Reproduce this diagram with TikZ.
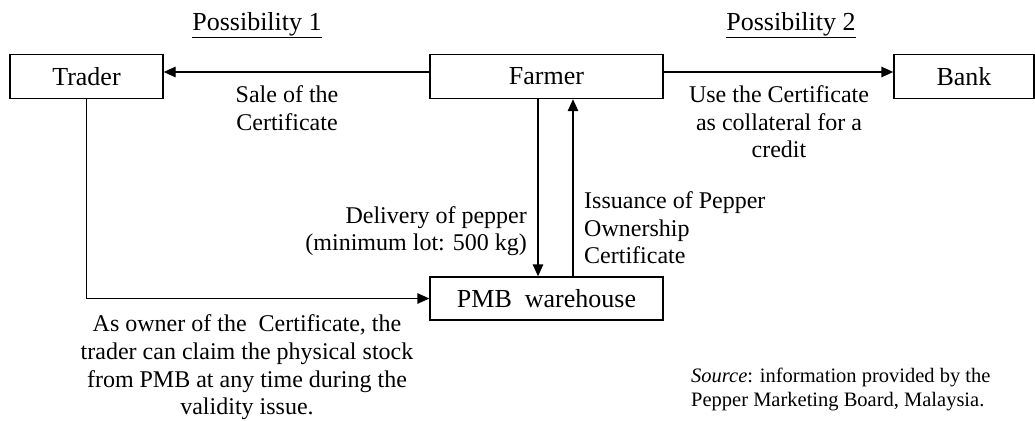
\documentclass[tikz,border=0pt]{standalone}
\usepackage{fontspec}
\setmainfont{Liberation Serif}
\usetikzlibrary{arrows.meta}
\begin{document}
\begin{tikzpicture}[x=1pt,y=-1pt,
  box/.style={draw,line width=1.4pt,minimum height=44pt,inner sep=0pt,font=\fontsize{26}{28}\selectfont},
  head/.style={inner sep=0pt,font=\fontsize{26}{28}\selectfont},
  lbl/.style={inner sep=0pt,font=\fontsize{24}{27.6}\selectfont},
  small/.style={inner sep=0pt,font=\fontsize{20.5}{24}\selectfont},
  arr/.style={line width=1.4pt,-{Triangle[length=12pt,width=10.5pt]}}]
\useasboundingbox (0,0) rectangle (1035,420);
\node[box,minimum width=153pt] (Trader) at (86.5,76.5) {Trader};
\node[box,minimum width=233pt] (Farmer) at (546.5,76.5) {Farmer};
\node[box,minimum width=140pt] (Bank) at (964,76.5) {Bank};
\node[box,minimum width=233pt,minimum height=43pt] (PMB) at (546.5,298.5) {PMB\ \ warehouse};
\node[head] (p1) at (257,25) {\underline{Possibility 1}};
\node[head] (p2) at (791,25) {\underline{Possibility 2}};
\draw[arr] ([yshift=4.5pt]Farmer.west) -- ([yshift=4.5pt]Trader.east);
\draw[arr] ([yshift=4.5pt]Farmer.east) -- ([yshift=4.5pt]Bank.west);
\draw[arr] (Trader.south) |- (PMB.west);
\draw[arr] ([xshift=-8.5pt]Farmer.south) -- ([xshift=-8.5pt]PMB.north);
\draw[arr] ([xshift=26.5pt]PMB.north) -- ([xshift=26.5pt]Farmer.south);
\node[lbl,align=center] (sale) at (287,108) {Sale of the\\Certificate};
\node[lbl,align=center] (use) at (779,122) {Use the Certificate\\as collateral for a\\credit};
\node[lbl,align=right,anchor=east] (deliv) at (527,231) {Delivery of pepper\\(minimum lot: 500 kg)};
\node[lbl,align=left,anchor=west] (iss) at (584,228) {Issuance of Pepper\\Ownership\\Certificate};
\node[lbl,align=center] (owner) at (247,367.5) {As owner of the\ \ Certificate, the\\trader can claim the physical stock\\from PMB at any time during the\\validity issue.};
\node[small,align=left,anchor=west] (src) at (691,389) {\textit{Source}: information provided by the\\Pepper Marketing Board, Malaysia.};
\end{tikzpicture}
\end{document}
